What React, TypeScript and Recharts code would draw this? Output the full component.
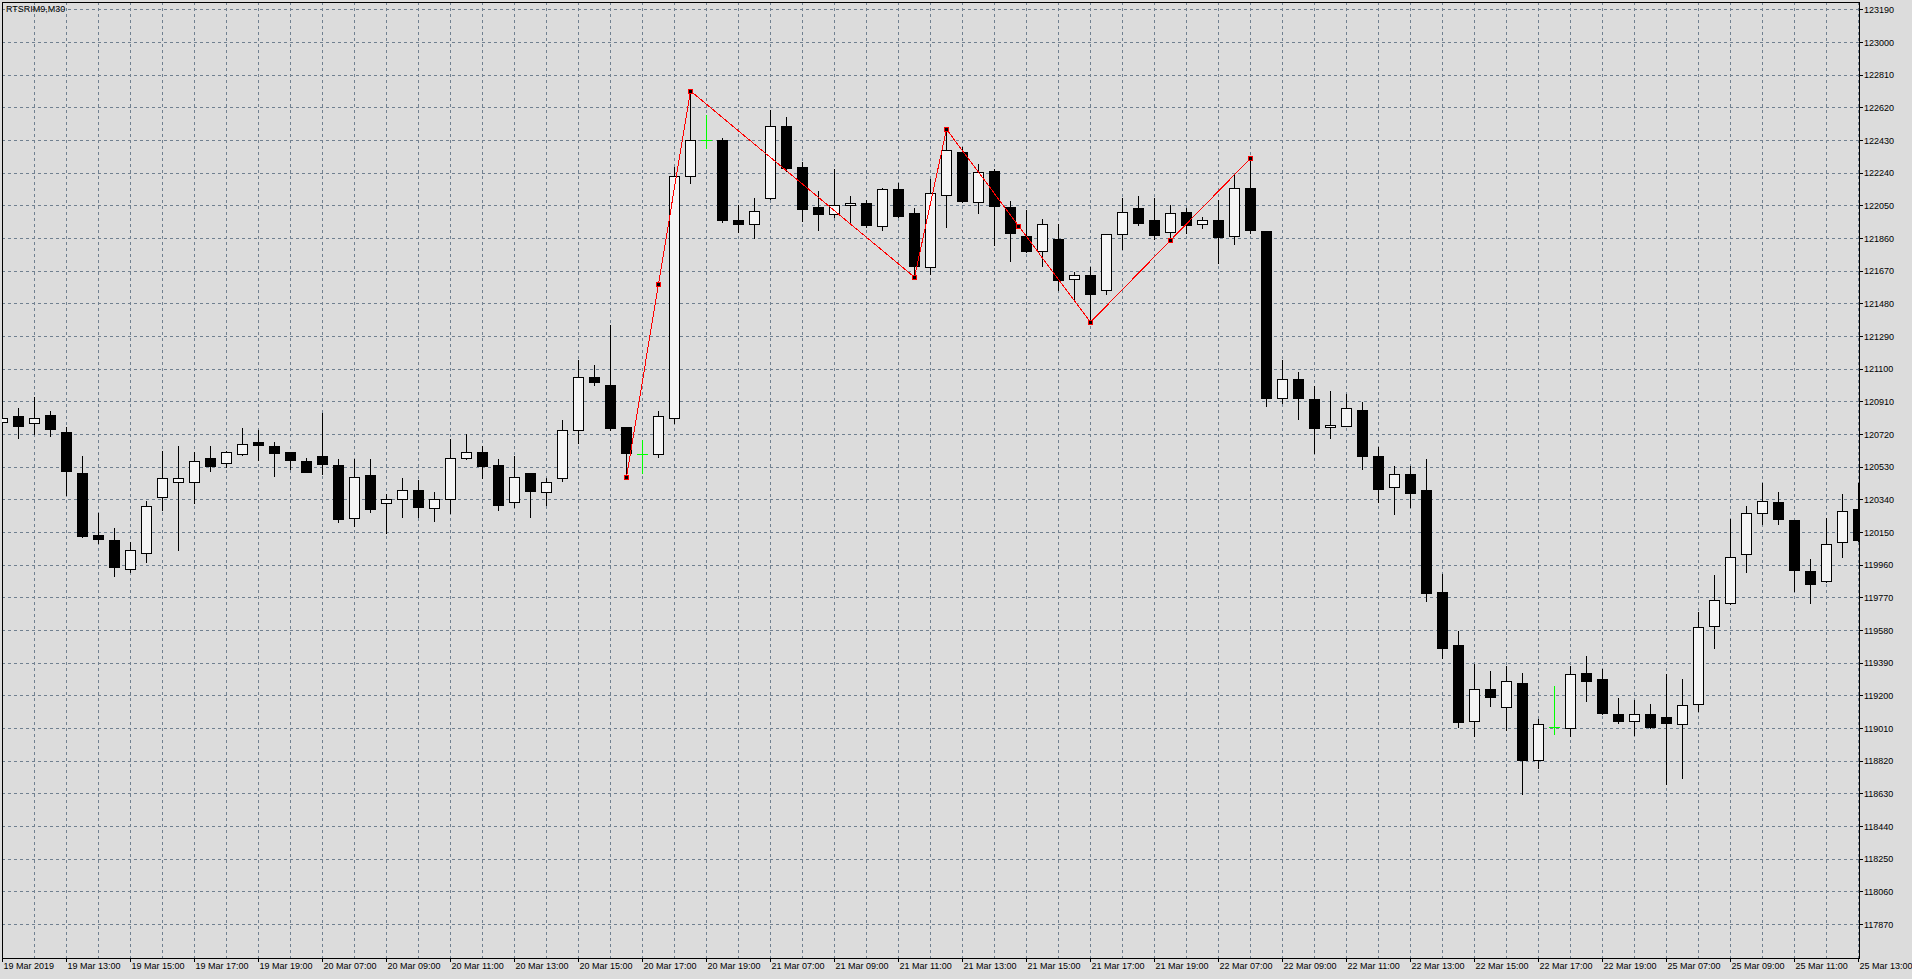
import React from 'react';
import { ComposedChart, Bar, Line, XAxis, YAxis, CartesianGrid, ReferenceArea } from 'recharts';

const FONT = '"Liberation Sans", Arial, sans-serif';

const openP = [
  120791, 120828, 120785, 120834, 120733, 120496, 120135, 120106, 119939, 120033,
  120355, 120442, 120442, 120581, 120552, 120605, 120676, 120653, 120618, 120566,
  120595, 120543, 120232, 120484, 120323, 120343, 120397, 120290, 120343, 120581,
  120616, 120543, 120325, 120496, 120384, 120465, 120744, 121053, 121008, 120762,
  120605, 120605, 120814, 122222, 122432, 122432, 121966, 121943, 122094, 122513,
  122275, 122042, 122005, 122053, 122065, 121931, 122147, 122007, 121693, 122112,
  122364, 122075, 122253, 122044, 121875, 121790, 121858, 121623, 121646, 121563,
  121885, 122036, 121966, 121896, 122013, 121943, 121966, 121873, 122152, 121904,
  120935, 121041, 120927, 120763, 120771, 120862, 120592, 120413, 120493, 120395,
  119802, 119493, 119052, 119241, 119135, 119272, 118826, 119020, 119013, 119330,
  119296, 119091, 119052, 119092, 119074, 119034, 119150, 119604, 119742, 120023,
  120261, 120327, 120223, 119924, 119866, 120093, 120285,
];
const highP = [
  120820, 120872, 120936, 120857, 120764, 120595, 120265, 120176, 120095, 120335,
  120624, 120653, 120618, 120653, 120622, 120758, 120748, 120676, 120620, 120581,
  120847, 120578, 120579, 120578, 120374, 120467, 120457, 120386, 120694, 120723,
  120653, 120577, 120595, 120498, 120465, 120805, 121154, 121124, 121357, 120765,
  120688, 120859, 122278, 122719, 122579, 122443, 122053, 122096, 122608, 122567,
  122306, 122137, 122265, 122108, 122084, 122156, 122185, 122040, 122207, 122496,
  122395, 122294, 122265, 122079, 122026, 121974, 121945, 121666, 121695, 121887,
  122096, 122108, 122096, 122053, 122036, 121984, 122085, 122234, 122327, 121906,
  121153, 121083, 121000, 120974, 120958, 120911, 120649, 120535, 120535, 120576,
  119906, 119579, 119387, 119345, 119374, 119332, 119062, 119257, 119374, 119433,
  119356, 119189, 119176, 119152, 119325, 119297, 119687, 119903, 120226, 120304,
  120440, 120385, 120225, 119994, 120234, 120374, 120440,
];
const lowP = [
  120786, 120702, 120720, 120713, 120368, 120122, 120087, 119899, 119922, 119980,
  120283, 120050, 120323, 120510, 120533, 120603, 120572, 120479, 120521, 120502,
  120490, 120213, 120188, 120271, 120149, 120242, 120242, 120219, 120265, 120576,
  120465, 120281, 120296, 120242, 120310, 120451, 120673, 121008, 120746, 120471,
  120494, 120591, 120789, 122181, 122385, 121955, 121900, 121862, 122090, 122255,
  121962, 121910, 121984, 121949, 121929, 121912, 121984, 121635, 121652, 121929,
  122071, 122011, 121825, 121730, 121782, 121702, 121561, 121499, 121373, 121539,
  121797, 121941, 121860, 121871, 121894, 121923, 121720, 121830, 121894, 120883,
  120901, 120810, 120613, 120701, 120769, 120522, 120330, 120260, 120298, 119753,
  119420, 119020, 118963, 119143, 119000, 118631, 118782, 118979, 118963, 119171,
  119091, 119044, 118974, 119010, 118687, 118723, 119111, 119480, 119732, 119922,
  120199, 120201, 119808, 119741, 119864, 120009, 120100,
];
const closeP = [
  120814, 120770, 120814, 120754, 120510, 120131, 120114, 119951, 120046, 120302,
  120465, 120465, 120564, 120539, 120616, 120663, 120661, 120614, 120574, 120504,
  120550, 120230, 120471, 120289, 120343, 120395, 120300, 120343, 120581, 120616,
  120539, 120312, 120471, 120393, 120442, 120744, 121053, 121024, 120760, 120614,
  120605, 120826, 122224, 122432, 122432, 121970, 121943, 122022, 122513, 122273,
  122034, 122005, 122053, 122065, 121941, 122147, 121993, 121702, 122123, 122374,
  122081, 122245, 122051, 121894, 121790, 121943, 121619, 121646, 121539, 121885,
  122013, 121953, 121883, 122007, 121941, 121966, 121871, 122152, 121912, 120935,
  121041, 120935, 120756, 120776, 120872, 120592, 120400, 120493, 120382, 119795,
  119480, 119049, 119241, 119192, 119283, 118826, 119033, 119020, 119324, 119285,
  119101, 119052, 119091, 119020, 119043, 119144, 119602, 119755, 120005, 120261,
  120331, 120230, 119934, 119852, 120081, 120275, 120104,
];

const tickIdx = [0, 4, 8, 12, 16, 20, 24, 28, 32, 36, 40, 44, 48, 52, 56, 60, 64, 68, 72, 76, 80, 84, 88, 92, 96, 100, 104, 108, 112, 116];
const tickLabels = [
  '19 Mar 2019', '19 Mar 13:00', '19 Mar 15:00', '19 Mar 17:00', '19 Mar 19:00',
  '20 Mar 07:00', '20 Mar 09:00', '20 Mar 11:00', '20 Mar 13:00', '20 Mar 15:00',
  '20 Mar 17:00', '20 Mar 19:00', '21 Mar 07:00', '21 Mar 09:00', '21 Mar 11:00',
  '21 Mar 13:00', '21 Mar 15:00', '21 Mar 17:00', '21 Mar 19:00', '22 Mar 07:00',
  '22 Mar 09:00', '22 Mar 11:00', '22 Mar 13:00', '22 Mar 15:00', '22 Mar 17:00',
  '22 Mar 19:00', '25 Mar 07:00', '25 Mar 09:00', '25 Mar 11:00', '25 Mar 13:00',
];
const gridIdx = [2, 4, 6, 8, 10, 12, 14, 16, 18, 20, 22, 24, 26, 28, 30, 32, 34, 36, 38, 40, 42, 44, 46, 48, 50, 52, 54, 56, 58, 60, 62, 64, 66, 68, 70, 72, 74, 76, 78, 80, 82, 84, 86, 88, 90, 92, 94, 96, 98, 100, 102, 104, 106, 108, 110, 112, 114, 116];
const priceTicks = [
  117870, 118060, 118250, 118440, 118630, 118820, 119010, 119200, 119390, 119580,
  119770, 119960, 120150, 120340, 120530, 120720, 120910, 121100, 121290, 121480,
  121670, 121860, 122050, 122240, 122430, 122620, 122810, 123000, 123190,
];
const zzIdx = [39, 41, 43, 57, 59, 63.5, 68, 73, 78];
const zzVal = [120471, 121595, 122719, 121635, 122496, 121934, 121373, 121850, 122327];

const data = openP.map((o, i) => ({ i, o, h: highP[i], l: lowP[i], c: closeP[i] }));
const zz = zzIdx.map((i, k) => ({ i, v: zzVal[k] }));

const X_MIN = -1 / 32;
const X_MAX = 116 + 1 / 32;
const Y_MIN = 117674;
const Y_MAX = 123236.5;

const Candle = (props: any) => {
  const { x, y, width, height, payload } = props;
  if (x == null || y == null || !payload) return null;
  const { o, h, l, c } = payload;
  const top = Math.min(y, y + height);
  const bot = Math.max(y, y + height);
  const span = h - l;
  const yOf = (v: number) => (span > 0 ? top + ((h - v) / span) * (bot - top) : top);
  const yp = (v: number) => Math.round(yOf(v));
  const col = Math.floor(x + width / 2);
  const yh = yp(h);
  const yl = yp(l);
  if (o === c) {
    const yc = yp(o);
    return (
      <g>
        <rect x={col} y={yh} width={1} height={yl - yh + 1} fill="#00ff00" />
        <rect x={col - 5} y={yc} width={11} height={1} fill="#00ff00" />
      </g>
    );
  }
  const bt = yp(Math.max(o, c));
  const bb = yp(Math.min(o, c));
  const bull = c > o;
  return (
    <g>
      <rect x={col} y={yh} width={1} height={yl - yh + 1} fill="#000" />
      <rect
        x={col - 4.5}
        y={bt + 0.5}
        width={10}
        height={Math.max(bb - bt, 1)}
        fill={bull ? '#f5f5f5' : '#000'}
        stroke="#000"
        strokeWidth={1}
      />
    </g>
  );
};

const ZZDot = (props: any) => {
  const { cx, cy, index } = props;
  if (cx == null || cy == null) return <g key={index} />;
  const col = Math.floor(cx);
  const row = Math.round(cy);
  return <rect key={index} x={col - 1.5} y={row - 1.5} width={4} height={4} fill="#000" stroke="#ff0000" strokeWidth={1} />;
};

const XTick = (props: any) => {
  const { x, y, payload } = props;
  const k = tickIdx.indexOf(payload.value);
  return (
    <text x={x + 1} y={y} dy="0.71em" fontSize={9} fontFamily={FONT} fill="#000" textAnchor="start">
      {k >= 0 ? tickLabels[k] : ''}
    </text>
  );
};

export default function App() {
  return (
    <div
      style={{
        position: 'fixed',
        left: 0,
        top: 0,
        width: 1912,
        height: 979,
        background: '#dcdcdc',
        fontFamily: FONT,
        shapeRendering: 'crispEdges',
      }}
    >
      <ComposedChart width={1912} height={979} data={data} margin={{ top: 2, left: 2, right: 0, bottom: 0 }}>
        <CartesianGrid
          stroke="#708090"
          strokeDasharray="3 3"
          horizontalValues={priceTicks}
          verticalValues={gridIdx}
        />
        <XAxis
          dataKey="i"
          type="number"
          domain={[X_MIN, X_MAX]}
          allowDataOverflow
          ticks={tickIdx}
          interval={0}
          height={21}
          tickSize={4}
          tickMargin={1}
          axisLine={{ stroke: '#000' }}
          tickLine={{ stroke: '#000' }}
          tick={<XTick />}
        />
        <YAxis
          orientation="right"
          type="number"
          domain={[Y_MIN, Y_MAX]}
          allowDataOverflow
          ticks={priceTicks}
          interval={0}
          width={53}
          tickSize={4}
          tickMargin={1}
          axisLine={{ stroke: '#000' }}
          tickLine={{ stroke: '#000' }}
          tick={{ fill: '#000', fontSize: 9, fontFamily: FONT, textAnchor: 'start' }}
        />
        <ReferenceArea
          x1={X_MIN}
          x2={X_MAX}
          y1={Y_MIN}
          y2={Y_MAX}
          fill="none"
          fillOpacity={0}
          stroke="#000"
          strokeWidth={1}
          ifOverflow="visible"
        />
        <Bar dataKey={(d: any) => [d.l, d.h]} barSize={11} shape={Candle} isAnimationActive={false} />
        <Line
          data={zz}
          dataKey="v"
          type="linear"
          stroke="#ff0000"
          strokeWidth={1}
          dot={<ZZDot />}
          activeDot={false}
          isAnimationActive={false}
        />
      </ComposedChart>
      <div
        style={{
          position: 'absolute',
          left: 6,
          top: 4,
          fontSize: 9,
          lineHeight: '10px',
          color: '#000',
          fontFamily: FONT,
          whiteSpace: 'nowrap',
        }}
      >
        RTSRIM9,M30
      </div>
    </div>
  );
}
